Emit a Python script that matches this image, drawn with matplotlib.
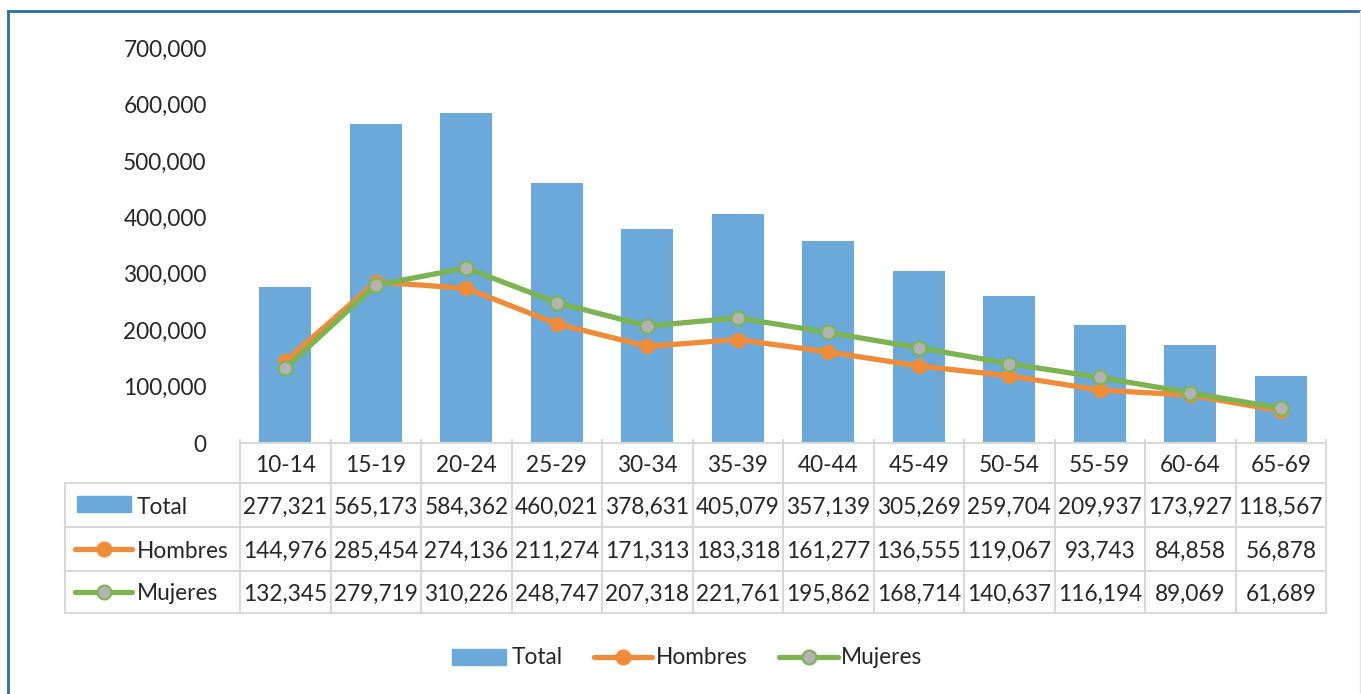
import matplotlib.pyplot as plt
import matplotlib.transforms as mtransforms
from matplotlib.lines import Line2D
from matplotlib.patches import Rectangle
from matplotlib.ticker import FuncFormatter

plt.rcParams["font.family"] = ["Lato", "DejaVu Sans"]

W, H = 1361, 694
FS = 16.3
TXT = "#262626"
GRID = "#d9d9d9"

grupos = ["10-14", "15-19", "20-24", "25-29", "30-34", "35-39",
          "40-44", "45-49", "50-54", "55-59", "60-64", "65-69"]
total = [277321, 565173, 584362, 460021, 378631, 405079,
         357139, 305269, 259704, 209937, 173927, 118567]
hombres = [144976, 285454, 274136, 211274, 171313, 183318,
           161277, 136555, 119067, 93743, 84858, 56878]
mujeres = [132345, 279719, 310226, 248747, 207318, 221761,
           195862, 168714, 140637, 116194, 89069, 61689]

C_TOTAL = "#6aa9d9"
C_HOMBRES = "#f08c37"
C_MUJERES = "#7bb450"
C_MARK = "#b3b3b3"


def fx(x):
    return x / W


def fy(y):
    return 1 - y / H


fig = plt.figure(figsize=(W / 100, H / 100), dpi=100)
fig.patch.set_facecolor("white")

# plot area in pixels: x 240..1326, y 48..443
ax = fig.add_axes([fx(240), fy(443), fx(1326) - fx(240), fy(48) - fy(443)])
x = list(range(len(grupos)))
ax.bar(x, total, width=0.58, color=C_TOTAL, zorder=2)
ax.plot(x, hombres, color=C_HOMBRES, lw=3.8, marker="o", ms=10,
        mfc=C_HOMBRES, mec=C_HOMBRES, zorder=3, solid_capstyle="round")
ax.plot(x, mujeres, color=C_MUJERES, lw=3.8, marker="o", ms=10,
        mfc=C_MARK, mec=C_MUJERES, mew=1.5, zorder=4, solid_capstyle="round")
ax.set_xlim(-0.5, len(grupos) - 0.5)
ax.set_ylim(0, 700000)
ax.set_yticks(range(0, 700001, 100000))
ax.yaxis.set_major_formatter(FuncFormatter(lambda v, p: f"{int(v):,}"))
ax.tick_params(axis="y", length=0, pad=24, labelsize=FS, labelcolor=TXT)
ax.set_xticks([])
for s in ["top", "right", "left"]:
    ax.spines[s].set_visible(False)
ax.spines["bottom"].set_color(GRID)
ax.spines["bottom"].set_linewidth(1.5)

# data table under the chart
tr = mtransforms.blended_transform_factory(ax.transData, fig.transFigure)
rows_y = [443, 483, 527, 571, 613]
x_left = 65
line_kw = dict(color=GRID, lw=1.5, zorder=1)

for yr in rows_y[1:]:
    fig.add_artist(Line2D([fx(x_left), fx(1326)], [fy(yr)] * 2,
                          transform=fig.transFigure, **line_kw))
fig.add_artist(Line2D([fx(x_left)] * 2, [fy(483), fy(613)], transform=fig.transFigure, **line_kw))
for i in range(len(grupos) + 1):
    fig.add_artist(Line2D([i - 0.5, i - 0.5], [fy(440), fy(613)], transform=tr, **line_kw))

series = [total, hombres, mujeres]
for i, g in enumerate(grupos):
    fig.text(i, fy(466), g, transform=tr, ha="center", va="center", fontsize=FS, color=TXT)
    for r, vals in enumerate(series):
        yc = (rows_y[r + 1] + rows_y[r + 2]) / 2 + 2
        fig.text(i, fy(yc), f"{vals[i]:,}", transform=tr, ha="center", va="center",
                 fontsize=FS, color=TXT)


def key(x0, x1, yc, kind, h=15):
    if kind == "Total":
        fig.add_artist(Rectangle((fx(x0), fy(yc + h / 2)), fx(x1 - x0), fy(0) - fy(h),
                                 transform=fig.transFigure, color=C_TOTAL))
    else:
        c = C_HOMBRES if kind == "Hombres" else C_MUJERES
        fc = C_HOMBRES if kind == "Hombres" else C_MARK
        fig.add_artist(Line2D([fx(x0), fx(x1)], [fy(yc)] * 2, transform=fig.transFigure,
                              color=c, lw=3.8, solid_capstyle="round"))
        fig.add_artist(Line2D([fx((x0 + x1) / 2)], [fy(yc)], transform=fig.transFigure,
                              marker="o", ms=10, mfc=fc, mec=c, mew=1.5, lw=0))


# row labels with their keys
for r, name in enumerate(["Total", "Hombres", "Mujeres"]):
    yc = (rows_y[r + 1] + rows_y[r + 2]) / 2
    if name == "Total":
        key(77, 131, yc - 1, name)
    else:
        key(75, 132, yc, name)
    fig.text(fx(137), fy(yc + 2), name, ha="left", va="center", fontsize=FS, color=TXT)

# legend at the bottom
yl = 657
key(452, 506, yl, "Total", h=16)
fig.text(fx(512), fy(yl), "Total", ha="left", va="center", fontsize=FS, color=TXT)
key(594, 652, yl, "Hombres")
fig.text(fx(656), fy(yl), "Hombres", ha="left", va="center", fontsize=FS, color=TXT)
key(779, 838, yl, "Mujeres")
fig.text(fx(841), fy(yl), "Mujeres", ha="left", va="center", fontsize=FS, color=TXT)

# outer frame
fig.add_artist(Line2D([fx(8), fx(1361)], [fy(11)] * 2, transform=fig.transFigure,
                      color="#2f6ea6", lw=2))
fig.add_artist(Line2D([fx(8)] * 2, [fy(11), fy(694)], transform=fig.transFigure,
                      color="#2f6ea6", lw=2))
fig.add_artist(Line2D([fx(1360)] * 2, [fy(11), fy(694)], transform=fig.transFigure,
                      color="#e6e6e6", lw=1))

fig.savefig("out.png", dpi=100)
